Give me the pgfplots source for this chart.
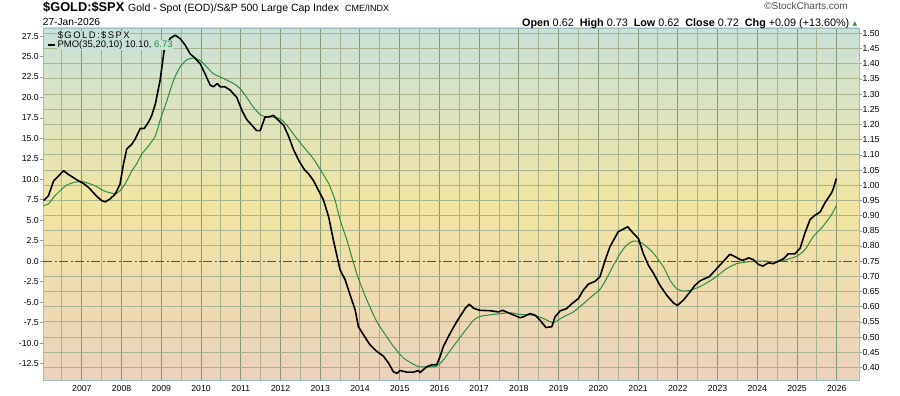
\documentclass[border=0pt]{standalone}
\usepackage{pgfplots}
\pgfplotsset{compat=1.18}
\usepackage{fontspec}
\setmainfont{Liberation Sans}
\newfontfamily\symfont{DejaVu Sans}
\definecolor{bgtop}{HTML}{C9E2D8}
\definecolor{bgmid}{HTML}{F2E5A2}
\definecolor{bgbot}{HTML}{ECD2BC}
\definecolor{gridd}{HTML}{869873}
\definecolor{lightgrid}{HTML}{A9B38B}
\definecolor{framec}{HTML}{9DBFC4}
\definecolor{pmogreen}{HTML}{2A8A3E}
\definecolor{zerogreen}{HTML}{1E6B2E}
\pgfplotsset{/pgf/number format/assume math mode=true}
\begin{document}
\begin{tikzpicture}[x=1pt,y=1pt]
\useasboundingbox (0,0) rectangle (900,396);
% background axis: shading and right ticks
\begin{axis}[at={(43.3pt,16pt)}, anchor=south west, scale only axis,
  width=815.7pt, height=352pt,
  xmin=2006.03, xmax=2026.56, ymin=0.359, ymax=1.5175,
  axis background/.style={top color=bgtop, bottom color=bgbot, middle color=bgmid},
  axis line style={draw=none},
  xtick=\empty,
  ytick={0.40,0.45,0.50,0.55,0.60,0.65,0.70,0.75,0.80,0.85,0.90,0.95,1.00,1.05,1.10,1.15,1.20,1.25,1.30,1.35,1.40,1.45,1.50},
  ytick pos=right, yticklabel pos=right,
  tick align=outside, major tick length=3pt,
  ytick style={gray!80, line width=0.6pt},
  yticklabel style={font=\fontsize{8.7}{10}\selectfont, xshift=-3pt,
    /pgf/number format/.cd, fixed, fixed zerofill, precision=2},
]
\end{axis}
% main axis
\begin{axis}[at={(43.3pt,16pt)}, anchor=south west, scale only axis,
  width=815.7pt, height=352pt,
  xmin=2006.03, xmax=2026.56, ymin=-14.51, ymax=28.48,
  axis line style={framec, line width=0.9pt},
  xtick={2007,2008,2009,2010,2011,2012,2013,2014,2015,2016,2017,2018,2019,2020,2021,2022,2023,2024,2025,2026},
  xmajorgrids,
  major grid style={gridd, line width=1pt},
  xtick style={draw=none},
  xtick pos=bottom,
  xticklabel style={font=\fontsize{8.7}{10}\selectfont, yshift=1pt, /pgf/number format/1000 sep={}},
  ytick={-12.5,-10,-7.5,-5,-2.5,0,2.5,5,7.5,10,12.5,15,17.5,20,22.5,25,27.5},
  ytick pos=left,
  tick align=outside, major tick length=3pt,
  ytick style={gray!80, line width=0.6pt},
  yticklabel style={font=\fontsize{8.7}{10}\selectfont, xshift=2pt,
    /pgf/number format/.cd, fixed, fixed zerofill, precision=1},
]
% light grid: horizontal lines at the right-axis ticks 0.40 ... 1.50, vertical lines at mid-year
\pgfplotsinvokeforeach{-12.988,-11.133,-9.277,-7.422,-5.566,-3.711,-1.855,1.855,3.711,5.566,7.422,9.277,11.133,12.988,14.843,16.699,18.554,20.410,22.265,24.120,25.976,27.831}{
  \addplot[lightgrid, line width=1pt, forget plot] coordinates {(2006.03,#1) (2026.56,#1)};
}
\pgfplotsinvokeforeach{2006.5,2007.5,2008.5,2009.5,2010.5,2011.5,2012.5,2013.5,2014.5,2015.5,2016.5,2017.5,2018.5,2019.5,2020.5,2021.5,2022.5,2023.5,2024.5,2025.5}{
  \addplot[lightgrid, line width=1pt, forget plot] coordinates {(#1,-14.51) (#1,28.48)};
}
\addplot[zerogreen, line width=1.3pt, dash pattern=on 9pt off 2.5pt on 2pt off 2.5pt] coordinates {(2006.03,0) (2026.56,0)};
\addplot[pmogreen, line width=1pt, smooth, tension=0.4] coordinates {
(2006.04,6.8) (2006.16,7.0) (2006.29,7.8) (2006.45,8.6) (2006.62,9.3) (2006.79,9.6) (2007.0,9.75)
(2007.17,9.5) (2007.34,9.2) (2007.55,8.6) (2007.76,8.3) (2007.88,8.3) (2008.0,8.8) (2008.13,9.8)
(2008.26,11.05) (2008.38,11.9) (2008.51,13.1) (2008.68,14.1) (2008.85,15.3) (2008.97,17.2)
(2009.14,19.6) (2009.31,22.1) (2009.47,23.7) (2009.64,24.6) (2009.81,24.8) (2009.98,24.5)
(2010.15,23.7) (2010.31,22.9) (2010.57,22.3) (2010.82,21.7) (2010.98,21.1) (2011.15,20.0)
(2011.32,18.8) (2011.49,17.9) (2011.66,17.6) (2011.82,17.6) (2011.99,17.4) (2012.16,16.6)
(2012.33,15.5) (2012.49,14.5) (2012.66,13.5) (2012.83,12.5) (2013.0,11.2) (2013.21,9.5)
(2013.37,7.5) (2013.5,5.05) (2013.67,2.6) (2013.79,0.57) (2013.96,-2.1) (2014.17,-4.7)
(2014.42,-7.35) (2014.67,-9.2) (2014.84,-10.4) (2015.09,-11.8) (2015.35,-12.6) (2015.51,-12.9)
(2015.77,-12.9) (2015.93,-12.8) (2016.1,-12.05) (2016.35,-10.4) (2016.6,-8.8) (2016.86,-7.2)
(2017.02,-6.75) (2017.28,-6.55) (2017.53,-6.4) (2017.78,-6.3) (2018.03,-6.5) (2018.36,-6.6)
(2018.62,-7.0) (2018.87,-7.5) (2019.12,-6.8) (2019.37,-6.2) (2019.62,-5.2) (2019.87,-4.15)
(2020.04,-3.45) (2020.21,-2.1) (2020.38,-0.5) (2020.55,0.95) (2020.71,1.95) (2020.88,2.45)
(2021.05,2.35) (2021.22,1.75) (2021.39,0.95) (2021.64,-0.7) (2021.8,-2.3) (2021.97,-3.35)
(2022.14,-3.65) (2022.31,-3.55) (2022.56,-3.1) (2022.81,-2.4) (2022.98,-1.85) (2023.23,-0.9)
(2023.48,-0.3) (2023.73,-0.1) (2023.98,0.0) (2024.24,0.0) (2024.49,-0.1) (2024.74,0.2)
(2024.99,0.6) (2025.2,1.4) (2025.41,3.0) (2025.66,4.3) (2025.87,5.7) (2025.99,6.8)
};
\addplot[black, line width=1.6pt, line join=round] coordinates {
(2006.04,7.4) (2006.16,8.0) (2006.29,9.8) (2006.41,10.4) (2006.54,11.05) (2006.66,10.6)
(2006.79,10.2) (2006.92,9.8) (2007.04,9.5) (2007.17,9.0) (2007.38,7.9) (2007.5,7.4)
(2007.59,7.25) (2007.71,7.6) (2007.84,8.2) (2007.96,9.4) (2008.05,11.9) (2008.13,13.7)
(2008.26,14.3) (2008.34,14.9) (2008.47,16.2) (2008.57,16.2) (2008.68,17.0) (2008.76,17.8)
(2008.85,19.2) (2008.97,22.1) (2009.07,25.7) (2009.22,27.2) (2009.35,27.6) (2009.47,27.2)
(2009.6,26.4) (2009.73,25.3) (2009.85,24.8) (2009.98,24.1) (2010.1,22.9) (2010.23,21.5)
(2010.31,21.3) (2010.41,21.7) (2010.48,21.3) (2010.6,21.3) (2010.73,20.9) (2010.9,20.0)
(2011.03,18.4) (2011.15,17.3) (2011.28,16.6) (2011.4,15.95) (2011.49,15.95) (2011.61,17.6)
(2011.72,17.65) (2011.82,17.8) (2011.95,17.2) (2012.08,16.6) (2012.2,15.3) (2012.33,13.6)
(2012.47,12.2) (2012.6,11.2) (2012.7,10.7) (2012.83,9.85) (2012.95,8.7) (2013.08,7.5)
(2013.21,5.45) (2013.33,2.6) (2013.46,-0.2) (2013.5,-1.05) (2013.63,-2.3) (2013.75,-4.1)
(2013.88,-5.95) (2013.96,-8.0) (2014.09,-9.0) (2014.25,-10.2) (2014.42,-11.0) (2014.59,-11.6)
(2014.72,-12.45) (2014.84,-13.5) (2014.93,-13.7) (2015.01,-13.35) (2015.18,-13.55)
(2015.35,-13.55) (2015.47,-13.35) (2015.51,-13.6) (2015.68,-12.9) (2015.81,-12.65)
(2015.93,-12.65) (2016.02,-11.6) (2016.1,-10.4) (2016.27,-8.8) (2016.44,-7.35) (2016.65,-5.75)
(2016.75,-5.25) (2016.86,-5.75) (2017.02,-6.0) (2017.28,-6.05) (2017.48,-6.2) (2017.59,-6.0)
(2017.78,-6.4) (2018.03,-6.9) (2018.11,-6.8) (2018.28,-6.4) (2018.41,-6.6) (2018.53,-7.2)
(2018.68,-8.1) (2018.83,-8.0) (2018.91,-6.8) (2019.04,-6.06) (2019.2,-5.8) (2019.33,-5.2)
(2019.5,-4.55) (2019.62,-3.55) (2019.75,-2.8) (2019.92,-2.45) (2020.04,-1.9) (2020.17,0.1)
(2020.29,1.75) (2020.5,3.6) (2020.74,4.2) (2020.88,3.4) (2021.01,2.75) (2021.13,0.95)
(2021.26,-0.5) (2021.39,-1.5) (2021.55,-2.95) (2021.72,-4.15) (2021.89,-5.1) (2021.99,-5.4)
(2022.14,-4.75) (2022.31,-3.75) (2022.43,-2.95) (2022.56,-2.4) (2022.69,-2.1) (2022.79,-1.9)
(2022.98,-0.9) (2023.15,0.0) (2023.31,0.85) (2023.44,0.55) (2023.61,0.1) (2023.69,0.2)
(2023.78,0.4) (2023.9,0.2) (2024.03,-0.4) (2024.14,-0.6) (2024.28,-0.2) (2024.4,-0.3)
(2024.53,0.0) (2024.66,0.3) (2024.78,0.9) (2024.95,0.9) (2025.08,1.6) (2025.2,3.45)
(2025.33,5.1) (2025.45,5.6) (2025.58,6.0) (2025.7,7.1) (2025.87,8.35) (2025.91,8.8) (2025.99,10.1)
};
\end{axis}
% legend
\node[anchor=west, inner sep=0.6pt, fill=bgtop, font=\fontsize{9.5}{11}\selectfont\addfontfeatures{LetterSpace=15}] at (57,361) {\$GOLD:\$SPX};
\node[anchor=west, inner sep=0.8pt, fill=bgtop, font=\fontsize{9.5}{11}\selectfont] at (56.5,351) {PMO(35,20,10) 10.10, \textcolor{pmogreen}{6.73}};
\draw[black, line width=2pt] (48,351) -- (54.5,351);
% titles
\node[anchor=base west, inner sep=0, font=\bfseries\fontsize{12.8}{14}\selectfont] at (43,384) {\$GOLD:\$SPX};
\node[anchor=base west, inner sep=0, font=\fontsize{10.5}{12}\selectfont] at (128,384) {Gold - Spot (EOD)/S\&P 500 Large Cap Index};
\node[anchor=base west, inner sep=0, font=\fontsize{9}{10}\selectfont] at (345,384) {CME/INDX};
\node[anchor=base west, inner sep=0, font=\fontsize{10.2}{11}\selectfont] at (42.7,370) {27-Jan-2026};
\node[anchor=base east, inner sep=0, font=\fontsize{10}{11}\selectfont, text=black!70] at (848,386) {\textcopyright StockCharts.com};
\node[anchor=base east, inner sep=0, font=\fontsize{10.8}{12}\selectfont] at (849.5,369.3) {\textbf{Open} 0.62\ \ \textbf{High} 0.73\ \ \textbf{Low} 0.62\ \ \textbf{Close} 0.72\ \ \textbf{Chg} +0.09 (+13.60\%)};
\node[anchor=center, inner sep=0, font=\symfont\fontsize{6}{7}\selectfont, text=pmogreen] at (855,372.5) {▲};
\end{tikzpicture}
\end{document}
